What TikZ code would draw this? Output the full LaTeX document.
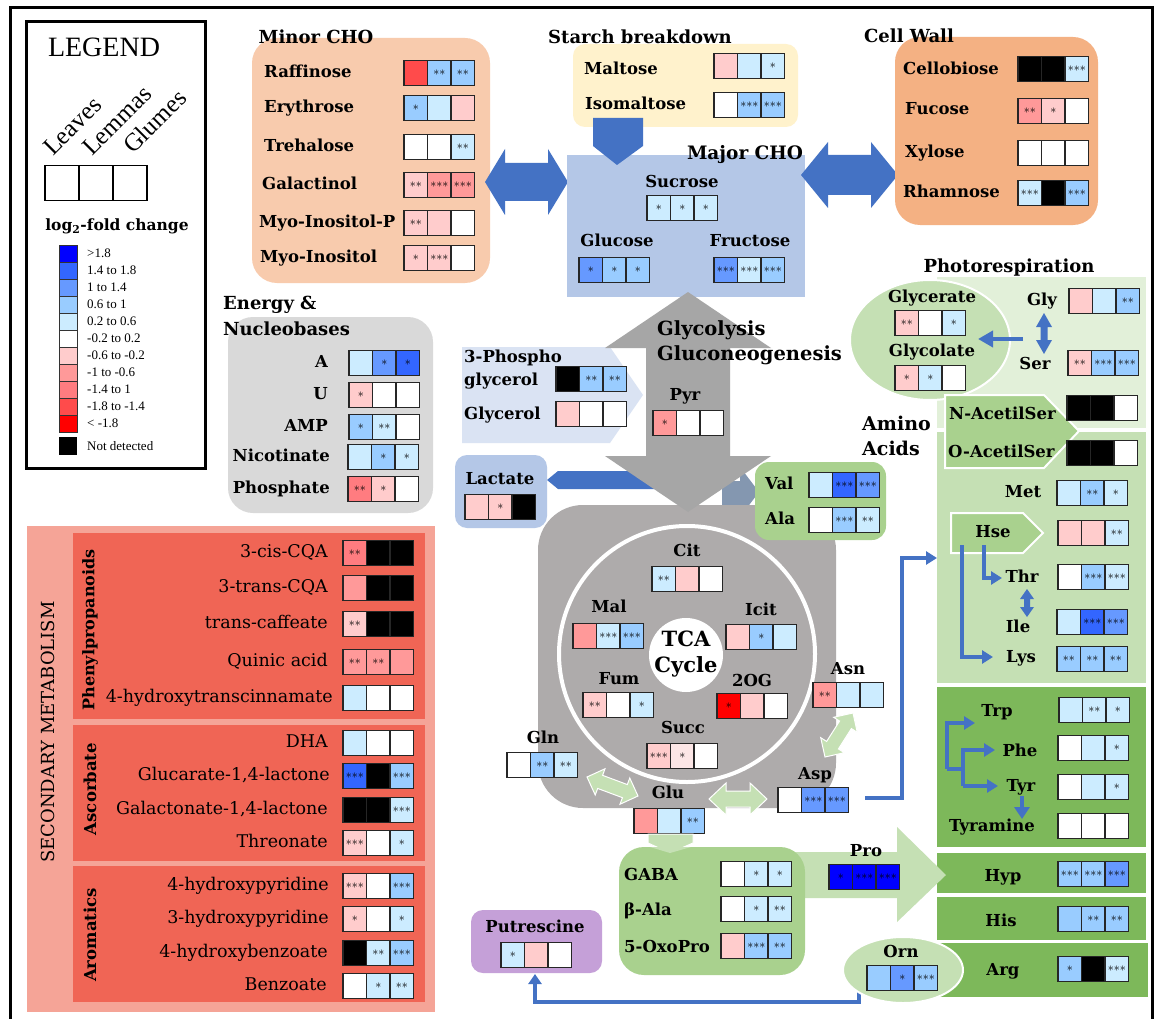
\documentclass[tikz,border=0pt]{standalone}
\usepackage{fontspec}
\setmainfont{DejaVu Serif}
\newfontfamily\tms{Liberation Serif}
\usetikzlibrary{calc,arrows.meta}
\definecolor{b5}{HTML}{0000FF}
\definecolor{b4}{HTML}{3366FF}
\definecolor{b3}{HTML}{6699FF}
\definecolor{b2}{HTML}{99CCFF}
\definecolor{b1}{HTML}{CCECFF}
\definecolor{wh}{HTML}{FFFFFF}
\definecolor{r0}{HTML}{FCE6E6}
\definecolor{r1}{HTML}{FFCCCC}
\definecolor{r2}{HTML}{FF9999}
\definecolor{r3}{HTML}{FF7C80}
\definecolor{r4}{HTML}{FF4B4B}
\definecolor{r5}{HTML}{FF0000}
\definecolor{kk}{HTML}{000000}
\definecolor{minorc}{HTML}{F8CBAD}
\definecolor{starchc}{HTML}{FFF2CC}
\definecolor{majorc}{HTML}{B4C7E7}
\definecolor{cellw}{HTML}{F4B183}
\definecolor{energyc}{HTML}{D9D9D9}
\definecolor{phosc}{HTML}{DAE3F3}
\definecolor{tcac}{HTML}{AEABAB}
\definecolor{midg}{HTML}{A9D18E}
\definecolor{lightg}{HTML}{E2F0D9}
\definecolor{aminoc}{HTML}{C5E0B4}
\definecolor{darkg}{HTML}{7DB85A}
\definecolor{putc}{HTML}{C5A0D8}
\definecolor{secout}{HTML}{F5A497}
\definecolor{secin}{HTML}{F06555}
\definecolor{blu}{HTML}{4472C4}
\definecolor{grayblu}{HTML}{8497B0}
\definecolor{arrgray}{HTML}{A6A6A6}
\newcommand\stars[1]{\ifcase#1\or$\ast$\or${\ast}{\ast}$\or${\ast}{\ast}{\ast}$\fi}
\newcommand\trip[8]{%
 \node[cell,fill=#3] (#1-1) at #2 {\stars{#4}};%
 \node[cell,fill=#5] (#1-2) at (#1-1.east) {\stars{#6}};%
 \node[cell,fill=#7] (#1-3) at (#1-2.east) {\stars{#8}};}
\newcommand\fatdbl[6]{%
 \coordinate (fdP) at ($(#1)!#3!(#2)$);%
 \coordinate (fdQ) at ($(#2)!#3!(#1)$);%
 \path[#6] (#1) -- ($(fdP)!#5!90:(#2)$) -- ($(fdP)!#4!90:(#2)$) -- ($(fdQ)!#4!-90:(#1)$) -- ($(fdQ)!#5!-90:(#1)$) -- (#2) -- ($(fdQ)!#5!90:(#1)$) -- ($(fdQ)!#4!90:(#1)$) -- ($(fdP)!#4!-90:(#2)$) -- ($(fdP)!#5!-90:(#2)$) -- cycle;}
\newcommand\lb{\bfseries\fontsize{16.5}{18}\selectfont}
\newcommand\tb{\bfseries\fontsize{18}{20}\selectfont}
\newcommand\rg{\fontsize{17.5}{19}\selectfont}
\begin{document}
\begin{tikzpicture}[x=1pt,y=-1pt,
 cell/.style={draw=black!85,line width=1.3pt,minimum width=23.5pt,minimum height=25pt,inner sep=0pt,outer sep=0pt,anchor=west,font=\fontsize{12}{12}\selectfont},
 lab/.style={font=\lb,inner sep=0pt,text height=12pt,text depth=3pt},
 seclab/.style={font=\rg,inner sep=0pt,text height=12.5pt,text depth=3.5pt,anchor=east},
 ttl/.style={font=\tb,inner sep=0pt},
 bl/.style={draw=blu,line width=4pt},
 arrowend/.style={-{Triangle[width=13pt,length=11pt]}},
 ]
\useasboundingbox (0,0) rectangle (1156,1019);
\fill[white] (0,0) rectangle (1156,1019);
% frame
\draw[line width=3pt] (10,1019) -- (10,8) -- (1152,8) -- (1152,1019);
% ---------------- legend
\draw[line width=3pt] (26,22) rectangle (205,468);
\node[font=\tms\fontsize{28}{28}\selectfont,inner sep=0pt] (legend) at (104,47) {LEGEND};
\node[font=\tms\fontsize{25}{25}\selectfont,rotate=45,anchor=base west,inner sep=0pt] (lg-leaves) at (53,157) {Leaves};
\node[font=\tms\fontsize{25}{25}\selectfont,rotate=45,anchor=base west,inner sep=0pt] (lg-lemmas) at (92,157) {Lemmas};
\node[font=\tms\fontsize{25}{25}\selectfont,rotate=45,anchor=base west,inner sep=0pt] (lg-glumes) at (133,155) {Glumes};
\foreach \k in {0,1,2}{\node[draw,line width=1.5pt,minimum width=34pt,minimum height=35pt,inner sep=0pt,anchor=north west] (lgbox\k) at (44+34*\k,165) {};}
\node[font=\bfseries\fontsize{15.5}{16}\selectfont,inner sep=0pt] (lg-fold) at (117,226) {log\textsubscript{2}-fold change};
\foreach \c/\t [count=\i from 0] in {b5/{>1.8},b4/{1.4 to 1.8},b3/{1 to 1.4},b2/{0.6 to 1},b1/{0.2 to 0.6},white/{-0.2 to 0.2},r1/{-0.6 to -0.2},r2/{-1 to -0.6},r3/{-1.4 to 1},r4/{-1.8 to -1.4},r5/{< -1.8}}{
 \node[draw=black!80,line width=0.8pt,fill=\c,minimum width=18pt,minimum height=17pt,inner sep=0pt,anchor=north west] (sc\i) at (59,245+17*\i) {};
 \node[font=\tms\fontsize{13}{13}\selectfont,anchor=west,inner sep=0pt] (sl\i) at (87,253.5+17*\i) {\t};
}
\node[fill=black,minimum width=18pt,minimum height=18pt,inner sep=0pt,anchor=north west] (scnd) at (59,437) {};
\node[font=\tms\fontsize{13}{13}\selectfont,anchor=west,inner sep=0pt] (slnd) at (87,446) {Not detected};
% ---------------- Minor CHO
\fill[minorc,rounded corners=25pt] (252,38) rectangle (490,283);
\node[ttl] (minor-t) at (316,37) {Minor CHO};
\node[lab,anchor=west] (raf) at (264,73) {Raffinose}; \trip{raf}{(404,73)}{r4}{0}{b2}{2}{b2}{2}
\node[lab,anchor=west] (ery) at (264,108) {Erythrose}; \trip{ery}{(404,108)}{b2}{1}{b1}{0}{r1}{0}
\node[lab,anchor=west] (tre) at (264,147) {Trehalose}; \trip{tre}{(404,147)}{wh}{0}{wh}{0}{b1}{2}
\node[lab,anchor=west] (gal) at (262,185) {Galactinol}; \trip{gal}{(404,185)}{r1}{2}{r2}{3}{r2}{3}
\node[lab,anchor=west] (myop) at (259,223) {Myo-Inositol-P}; \trip{myop}{(404,223)}{r1}{2}{r1}{0}{wh}{0}
\node[lab,anchor=west] (myo) at (260,258) {Myo-Inositol}; \trip{myo}{(404,258)}{r1}{1}{r1}{3}{wh}{0}
% ---------------- Starch
\fill[starchc,rounded corners=12pt] (573,44) rectangle (798,127);
\node[ttl] (starch-t) at (640,37) {Starch breakdown};
\node[lab,anchor=west] (mal) at (584,70) {Maltose}; \trip{malt}{(714,66)}{r1}{0}{b1}{0}{b1}{1}
\node[lab,anchor=west] (iso) at (585,105) {Isomaltose}; \trip{iso}{(714,105)}{wh}{0}{b2}{3}{b2}{3}
% Minor <-> Major arrow
\coordinate (mm-a) at (485,182); \coordinate (mm-b) at (568,182);
\fatdbl{mm-a}{mm-b}{20pt}{19pt}{33pt}{fill=blu}
% ---------------- Major CHO
\fill[majorc] (567,155) rectangle (805,297);
\node[font=\bfseries\fontsize{18.5}{20}\selectfont,inner sep=0pt] (major-t) at (745,155) {Major CHO};
\node[lab] (suc) at (682,183) {Sucrose}; \trip{suc}{(647,208)}{b1}{1}{b1}{1}{b1}{1}
\node[lab] (glc) at (617,242) {Glucose}; \trip{glc}{(579,270)}{b3}{1}{b2}{1}{b2}{1}
\node[lab] (fru) at (750,242) {Fructose}; \trip{fru}{(714,270)}{b3}{3}{b1}{3}{b2}{3}
% starch down arrow
\fill[blu] (593,118) -- (643,118) -- (643,146) -- (617,165) -- (593,146) -- cycle;
% Major <-> Cell wall arrow
\coordinate (mc-a) at (801,175); \coordinate (mc-b) at (898,175);
\fatdbl{mc-a}{mc-b}{27pt}{20pt}{33pt}{fill=blu}
% ---------------- Cell wall
\fill[cellw,rounded corners=25pt] (895,37) rectangle (1098,225);
\node[ttl] (cell-t) at (909,36) {Cell Wall};
\node[lab,anchor=west] (cbi) at (903,70) {Cellobiose}; \trip{cbi}{(1018,69)}{kk}{0}{kk}{0}{b1}{3}
\node[lab,anchor=west] (fuc) at (905,110) {Fucose}; \trip{fuc}{(1018,111)}{r2}{2}{r1}{1}{wh}{0}
\node[lab,anchor=west] (xyl) at (905,153) {Xylose}; \trip{xyl}{(1018,153)}{wh}{0}{wh}{0}{wh}{0}
\node[lab,anchor=west] (rha) at (903,193) {Rhamnose}; \trip{rha}{(1018,193)}{b1}{3}{kk}{0}{b2}{3}
% ---------------- Energy
\fill[energyc,rounded corners=25pt] (228,317) rectangle (433,513);
\node[ttl,anchor=west] (en-t1) at (223,305) {Energy \&};
\node[ttl,anchor=west] (en-t2) at (223,329) {Nucleobases};
\node[lab,anchor=east] (ade) at (328,363) {A}; \trip{ade}{(349,363)}{b1}{0}{b3}{1}{b4}{1}
\node[lab,anchor=east] (ura) at (328,395) {U}; \trip{ura}{(349,395)}{r1}{1}{wh}{0}{wh}{0}
\node[lab,anchor=east] (amp) at (328,427) {AMP}; \trip{amp}{(349,427)}{b2}{1}{b1}{2}{wh}{0}
\node[lab,anchor=east] (nic) at (330,457) {Nicotinate}; \trip{nic}{(348,457)}{b1}{0}{b2}{1}{b1}{1}
\node[lab,anchor=east] (pho) at (330,489) {Phosphate}; \trip{pho}{(348,489)}{r3}{2}{r1}{1}{wh}{0}
% ---------------- 3-phospho pentagon
\fill[phosc] (462,347) -- (610,347) -- (643,395) -- (610,443) -- (462,443) -- cycle;
\node[lab,anchor=west] (pg1) at (464,358) {3-Phospho};
\node[lab,anchor=west] (pg2) at (464,381) {glycerol}; \trip{pg}{(556,379)}{kk}{0}{b2}{2}{b2}{2}
\node[lab,anchor=west] (gro) at (464,415) {Glycerol}; \trip{gro}{(556,414)}{r1}{0}{wh}{0}{wh}{0}
% lactate arrow and gray-blue arrow
\fill[blu] (547,480) -- (558,471) -- (655,471) -- (655,489) -- (558,489) -- cycle;
\fill[grayblu] (722,481) -- (740,481) -- (740,467) -- (759,492) -- (740,517) -- (740,505) -- (722,505) -- cycle;
% ---------------- TCA box
\fill[tcac,rounded corners=45pt] (538,505) rectangle (836,808);
\draw[white,line width=4pt] (687,654) circle (128pt);
\fill[white] (686,655) circle (37pt);
\node[font=\bfseries\fontsize{21}{22}\selectfont,inner sep=0pt] (tca1) at (686,639) {TCA};
\node[font=\bfseries\fontsize{21}{22}\selectfont,inner sep=0pt] (tca2) at (686,667) {Cycle};
% big grey arrow
\coordinate (gl-a) at (688,292); \coordinate (gl-b) at (688,512);
\fatdbl{gl-a}{gl-b}{56pt}{42pt}{83pt}{fill=arrgray}
\node[font=\bfseries\fontsize{19.5}{20}\selectfont,inner sep=0pt,anchor=west] (glyco1) at (657,330) {Glycolysis};
\node[font=\bfseries\fontsize{19.5}{20}\selectfont,inner sep=0pt,anchor=west] (glyco2) at (657,355) {Gluconeogenesis};
\node[lab] (pyr) at (685,396) {Pyr}; \trip{pyr}{(653,423)}{r2}{1}{wh}{0}{wh}{0}
% lactate box
\fill[majorc,rounded corners=12pt] (455,455) rectangle (547,528);
\node[lab] (lac) at (500,480) {Lactate}; \trip{lac}{(465,507)}{r1}{0}{r1}{1}{kk}{0}
% Val Ala box
\fill[midg,rounded corners=14pt] (755,462) rectangle (886,540);
\node[lab,anchor=west] (val) at (765,485) {Val}; \trip{val}{(809,485)}{b1}{0}{b4}{3}{b3}{3}
\node[lab,anchor=west] (ala) at (765,520) {Ala}; \trip{ala}{(809,520)}{wh}{0}{b2}{3}{b1}{2}
% TCA metabolites
\node[lab] (cit) at (687,552) {Cit}; \trip{cit}{(652,579)}{b1}{2}{r1}{0}{wh}{0}
\node[lab] (mall) at (609,608) {Mal}; \trip{mall}{(573,636)}{r2}{0}{b1}{3}{b2}{3}
\node[lab] (icit) at (761,611) {Icit}; \trip{icit}{(726,637)}{r1}{0}{b2}{1}{b1}{0}
\node[lab] (fum) at (619,680) {Fum}; \trip{fum}{(583,705)}{r1}{2}{wh}{0}{b1}{1}
\node[lab] (og) at (752,682) {2OG}; \trip{og}{(717,706)}{r5}{1}{r1}{0}{wh}{0}
\node[lab] (succ) at (683,729) {Succ}; \trip{succ}{(647,756)}{r1}{3}{r0}{1}{wh}{0}
\node[lab] (gln) at (543,739) {Gln}; \trip{gln}{(507,765)}{wh}{0}{b2}{2}{b1}{2}
\node[lab] (glu) at (668,794) {Glu}; \trip{glu}{(634,821)}{r2}{0}{b1}{0}{b2}{2}
\node[lab] (asn) at (848,670) {Asn}; \trip{asn}{(813,695)}{r2}{2}{b1}{0}{b1}{0}
\node[lab] (asp) at (815,775) {Asp}; \trip{asp}{(778,800)}{wh}{0}{b3}{3}{b3}{3}
% light green double arrows
\coordinate (gg-a) at (587,777); \coordinate (gg-b) at (638,796);
\fatdbl{gg-a}{gg-b}{14pt}{7pt}{14pt}{fill=aminoc,draw=white,line width=1pt}
\coordinate (ga-a) at (709,799); \coordinate (ga-b) at (767,799);
\fatdbl{ga-a}{ga-b}{17pt}{8pt}{16pt}{fill=aminoc,draw=white,line width=1pt}
\coordinate (aa-a) at (825,757); \coordinate (aa-b) at (853,713);
\fatdbl{aa-a}{aa-b}{14pt}{7pt}{14pt}{fill=aminoc,draw=white,line width=1pt}
% ---------------- Amino acids panels
\node[font=\bfseries\fontsize{19}{20}\selectfont,inner sep=0pt,anchor=west] (am1) at (862,423) {Amino};
\node[font=\bfseries\fontsize{19}{20}\selectfont,inner sep=0pt,anchor=west] (am2) at (862,448) {Acids};
\fill[lightg] (937,277) rectangle (1146,428);
\fill[aminoc] (937,432) rectangle (1146,683);
\node[ttl] (photo-t) at (1009,268) {Photorespiration};
\filldraw[fill=aminoc,draw=white,line width=2pt] (930,340) ellipse [x radius=80pt,y radius=60pt];
\node[lab] (gcr) at (932,298) {Glycerate}; \trip{gcr}{(895,323)}{r1}{2}{wh}{0}{b1}{1}
\node[lab] (gcl) at (932,352) {Glycolate}; \trip{gcl}{(895,378)}{r1}{1}{b1}{1}{wh}{0}
\node[lab] (gly) at (1042,301) {Gly}; \trip{gly}{(1069,301)}{r1}{0}{b1}{0}{b2}{2}
\node[lab] (ser) at (1035,365) {Ser}; \trip{ser}{(1068,363)}{r1}{2}{b2}{3}{b2}{3}
\coordinate (gs-a) at (1044,313); \coordinate (gs-b) at (1044,354);
\fatdbl{gs-a}{gs-b}{14pt}{3.5pt}{8pt}{fill=blu}
\coordinate (gsmid) at (1023,339); \coordinate (ellr) at (978,339);
\draw[bl,line width=4.5pt,-{Triangle[width=16pt,length=15pt]}] (gsmid) -- (ellr);
\filldraw[fill=midg,draw=white,line width=2pt] (945,395) -- (1044,395) -- (1079,431) -- (1044,468) -- (945,468) -- cycle;
\node[lab,anchor=west] (nac) at (949,415) {N-AcetilSer}; \trip{nac}{(1067,408)}{kk}{0}{kk}{0}{wh}{0}
\node[lab,anchor=west] (oac) at (948,453) {O-AcetilSer}; \trip{oac}{(1067,453)}{kk}{0}{kk}{0}{wh}{0}
\node[lab] (met) at (1023,493) {Met}; \trip{met}{(1057,493)}{b1}{0}{b2}{2}{b1}{1}
\filldraw[fill=midg,draw=white,line width=2pt] (951,513) -- (1023,513) -- (1043,533) -- (1023,553) -- (951,553) -- cycle;
\node[lab] (hse) at (993,533) {Hse}; \trip{hse}{(1058,533)}{r1}{0}{r1}{0}{b1}{2}
\node[lab] (thr) at (1022,578) {Thr}; \trip{thr}{(1058,577)}{wh}{0}{b2}{3}{b1}{3}
\node[lab] (ile) at (1018,628) {Ile}; \trip{ile}{(1057,622)}{b1}{0}{b4}{3}{b3}{3}
\node[lab] (lys) at (1021,658) {Lys}; \trip{lys}{(1057,659)}{b2}{2}{b2}{2}{b2}{2}
\coordinate (hse-o1) at (984,545); \coordinate (thr-in) at (1002,578);
\coordinate (hse-o2) at (962,545); \coordinate (lys-in) at (993,657);
\draw[bl,arrowend] (hse-o1) |- (thr-in);
\draw[bl,arrowend] (hse-o2) |- (lys-in);
\coordinate (ti-a) at (1027,589); \coordinate (ti-b) at (1027,617);
\fatdbl{ti-a}{ti-b}{10pt}{3pt}{7pt}{fill=blu}
% Asp -> amino acids
\coordinate (aspout) at (865,798); \coordinate (aain) at (937,558);
\draw[bl,arrowend] (aspout) -- (902,798) |- (aain);
% ---------------- aromatic & others
\fill[darkg] (937,687) rectangle (1146,847);
\fill[darkg] (937,853) rectangle (1146,893);
\fill[darkg] (937,897) rectangle (1146,940);
\fill[darkg] (940,943) rectangle (1148,997);
\node[lab] (trp) at (997,712) {Trp}; \trip{trp}{(1059,710)}{b1}{0}{b1}{2}{b1}{1}
\node[lab] (phe) at (1020,752) {Phe}; \trip{phe}{(1058,748)}{wh}{0}{b1}{0}{b1}{1}
\node[lab] (tyr) at (1021,787) {Tyr}; \trip{tyr}{(1058,787)}{wh}{0}{b1}{0}{b1}{1}
\node[lab] (tyra) at (992,827) {Tyramine}; \trip{tyra}{(1058,826)}{wh}{0}{wh}{0}{wh}{0}
\coordinate (br1) at (947,769); \coordinate (trp-in) at (975,723);
\coordinate (br2a) at (963,750); \coordinate (br2b) at (963,786);
\coordinate (phe-in) at (995,750); \coordinate (tyr-in) at (998,786);
\draw[bl,line width=3.5pt] (br1) -- (br2a |- br1);
\draw[bl,line width=3.5pt,arrowend] (br1) |- (trp-in);
\draw[bl,line width=3.5pt,arrowend] (br2b) -- (br2a) -- (phe-in);
\draw[bl,line width=3.5pt,arrowend] (br2b) -- (tyr-in);
\coordinate (tyr-out) at (1022,796); \coordinate (tyra-in) at (1022,819);
\draw[bl,line width=3.5pt,-{Triangle[width=15pt,length=12pt]}] (tyr-out) -- (tyra-in);
\node[lab] (hyp) at (1003,877) {Hyp}; \trip{hyp}{(1058,874)}{b2}{3}{b2}{3}{b3}{3}
\node[lab] (his) at (1001,922) {His}; \trip{his}{(1058,919)}{b2}{0}{b2}{2}{b2}{2}
\node[lab] (arg) at (1003,971) {Arg}; \trip{arg}{(1058,969)}{b2}{1}{kk}{0}{b1}{3}
% Pro arrow
\fill[aminoc] (790,852) -- (897,852) -- (897,827) -- (946,875) -- (897,922) -- (897,898) -- (790,898) -- cycle;
\node[lab] (pro) at (866,852) {Pro}; \trip{pro}{(829,877)}{b5}{1}{b5}{3}{b5}{3}
% GABA box
\filldraw[fill=aminoc,draw=white,line width=1pt] (648,834) -- (693,834) -- (693,843) -- (670,853) -- (648,843) -- cycle;
\fill[midg,rounded corners=25pt] (619,847) rectangle (805,975);
\fill[aminoc] (650,847) -- (691,847) -- (670,853) -- cycle;
\node[lab,anchor=west] (gaba) at (624,876) {GABA}; \trip{gaba}{(721,874)}{wh}{0}{b1}{1}{b1}{1}
\node[lab,anchor=west] (bala) at (624,911) {β-Ala}; \trip{bala}{(721,909)}{wh}{0}{b1}{1}{b1}{2}
\node[lab,anchor=west] (oxo) at (624,948) {5-OxoPro}; \trip{oxo}{(721,946)}{r1}{0}{b2}{3}{b2}{2}
% Putrescine
\fill[putc,rounded corners=12pt] (471,910) rectangle (602,973);
\node[lab] (put) at (535,928) {Putrescine}; \trip{put}{(501,955)}{b1}{1}{r1}{0}{wh}{0}
\coordinate (ornout) at (859,985); \coordinate (putin) at (535,974);
\draw[bl,-{Triangle[width=13pt,length=10pt]}] (ornout) -- (859,1002) -| (putin);
% Orn
\filldraw[fill=aminoc,draw=white,line width=2pt] (903,970) ellipse [x radius=60pt,y radius=33pt];
\node[lab] (orn) at (901,953) {Orn}; \trip{orn}{(867,978)}{b2}{0}{b3}{1}{b2}{3}
% ---------------- Secondary metabolism
\fill[secout] (27,526) rectangle (435,1012);
\fill[secin] (73,533) rectangle (425,719);
\fill[secin] (73,725) rectangle (425,861);
\fill[secin] (73,866) rectangle (425,1002);
\node[font=\fontsize{18}{18}\selectfont,rotate=90,inner sep=0pt] (sec-t) at (48,732) {SECONDARY METABOLISM};
\node[font=\bfseries\fontsize{16}{17}\selectfont,rotate=90,inner sep=0pt] (phen-t) at (90,630) {Phenylpropanoids};
\node[font=\bfseries\fontsize{16.5}{17}\selectfont,rotate=90,inner sep=0pt] (asc-t) at (90,789) {Ascorbate};
\node[font=\bfseries\fontsize{16.5}{17}\selectfont,rotate=90,inner sep=0pt] (aro-t) at (90,935) {Aromatics};
\node[seclab] (s1) at (328,553) {3-cis-CQA}; \trip{s1}{(343,553)}{r3}{2}{kk}{0}{kk}{0}
\node[seclab] (s2) at (328,588) {3-trans-CQA}; \trip{s2}{(343,588)}{r2}{0}{kk}{0}{kk}{0}
\node[seclab] (s3) at (328,624) {trans-caffeate}; \trip{s3}{(343,624)}{r1}{2}{kk}{0}{kk}{0}
\node[seclab] (s4) at (328,662) {Quinic acid}; \trip{s4}{(343,662)}{r2}{2}{r2}{2}{r2}{0}
\node[seclab] (s5) at (333,698) {4-hydroxytranscinnamate}; \trip{s5}{(343,698)}{b1}{0}{wh}{0}{wh}{0}
\node[seclab] (s6) at (328,743) {DHA}; \trip{s6}{(343,743)}{b1}{0}{wh}{0}{wh}{0}
\node[seclab] (s7) at (330,776) {Glucarate-1,4-lactone}; \trip{s7}{(343,776)}{b4}{3}{kk}{0}{b2}{3}
\node[seclab] (s8) at (328,810) {Galactonate-1,4-lactone}; \trip{s8}{(343,810)}{kk}{0}{kk}{0}{b1}{3}
\node[seclab] (s9) at (328,843) {Threonate}; \trip{s9}{(343,843)}{r1}{3}{wh}{0}{b1}{1}
\node[seclab] (s10) at (329,886) {4-hydroxypyridine}; \trip{s10}{(343,886)}{r1}{3}{wh}{0}{b2}{3}
\node[seclab] (s11) at (329,919) {3-hydroxypyridine}; \trip{s11}{(343,919)}{r1}{1}{wh}{0}{b1}{1}
\node[seclab] (s12) at (328,953) {4-hydroxybenzoate}; \trip{s12}{(343,953)}{kk}{0}{b1}{2}{b2}{3}
\node[seclab] (s13) at (327,986) {Benzoate}; \trip{s13}{(343,986)}{wh}{0}{b1}{1}{b1}{2}
\end{tikzpicture}
\end{document}
